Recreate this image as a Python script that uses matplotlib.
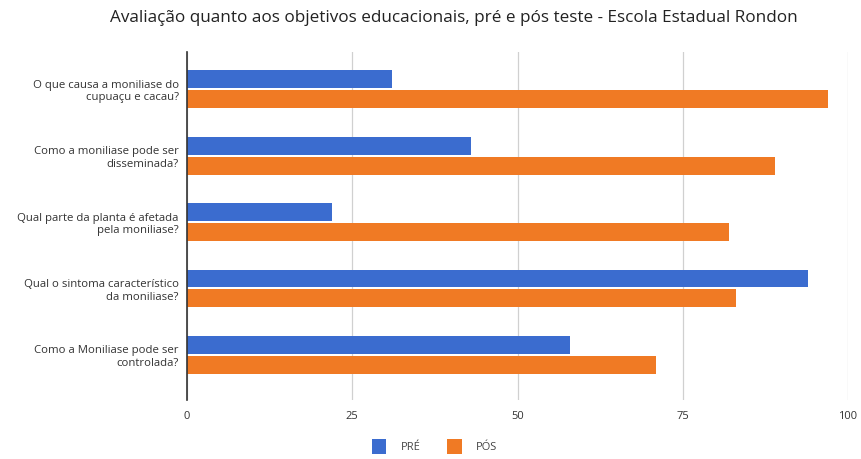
import matplotlib
matplotlib.use("Agg")
import matplotlib.pyplot as plt
import numpy as np

plt.rcParams['font.family'] = ['Open Sans', 'DejaVu Sans']

perguntas = [
    "O que causa a moniliase do\ncupuaçu e cacau?",
    "Como a moniliase pode ser\ndisseminada?",
    "Qual parte da planta é afetada\npela moniliase?",
    "Qual o sintoma característico\nda moniliase?",
    "Como a Moniliase pode ser\ncontrolada?",
]
pre = [31, 43, 22, 94, 58]
pos = [97, 89, 82, 83, 71]
xticks = [0, 25, 50, 75, 100]

azul = "#3b6ccf"
laranja = "#f07a24"

fig = plt.figure(figsize=(8.61, 4.59), dpi=100)
ax = fig.add_axes([187 / 861, 1 - 400 / 459, (848 - 187) / 861, (400 - 52) / 459])

y = np.arange(len(perguntas))
h = 0.27
ax.barh(y - 0.15, pre, height=h, color=azul, label="PRÉ", zorder=3)
ax.barh(y + 0.15, pos, height=h, color=laranja, label="PÓS", zorder=3)

ax.set_ylim(4.68, -0.56)
ax.set_xlim(0, 100)
ax.set_yticks(y)
ax.set_yticklabels(perguntas, fontsize=8.2, color="#333333", ha="right")
ax.tick_params(axis="y", length=0, pad=6)
ax.set_xticks(xticks)
ax.set_xticklabels([str(v) for v in xticks], fontsize=8, color="#333333")
ax.tick_params(axis="x", length=0, pad=8)

# quadrillage
ax.grid(axis="x", color="#d0d0d0", linewidth=0.9, zorder=0)
for s in ["top", "right", "bottom"]:
    ax.spines[s].set_visible(False)
ax.spines["left"].set_color("#333333")
ax.spines["left"].set_linewidth(1.2)
ax.spines["left"].set_zorder(4)

fig.suptitle("Avaliação quanto aos objetivos educacionais, pré e pós teste - Escola Estadual Rondon",
             fontsize=12.3, color="#222222", y=0.978, x=0.527)

fig.legend(loc="center", bbox_to_anchor=(0.505, 0.027), ncol=2, frameon=False,
           fontsize=8, handlelength=1.3, handleheight=1.6, columnspacing=2.4,
           handletextpad=1.3, labelcolor="#444444")

fig.savefig("out.png", dpi=100)
